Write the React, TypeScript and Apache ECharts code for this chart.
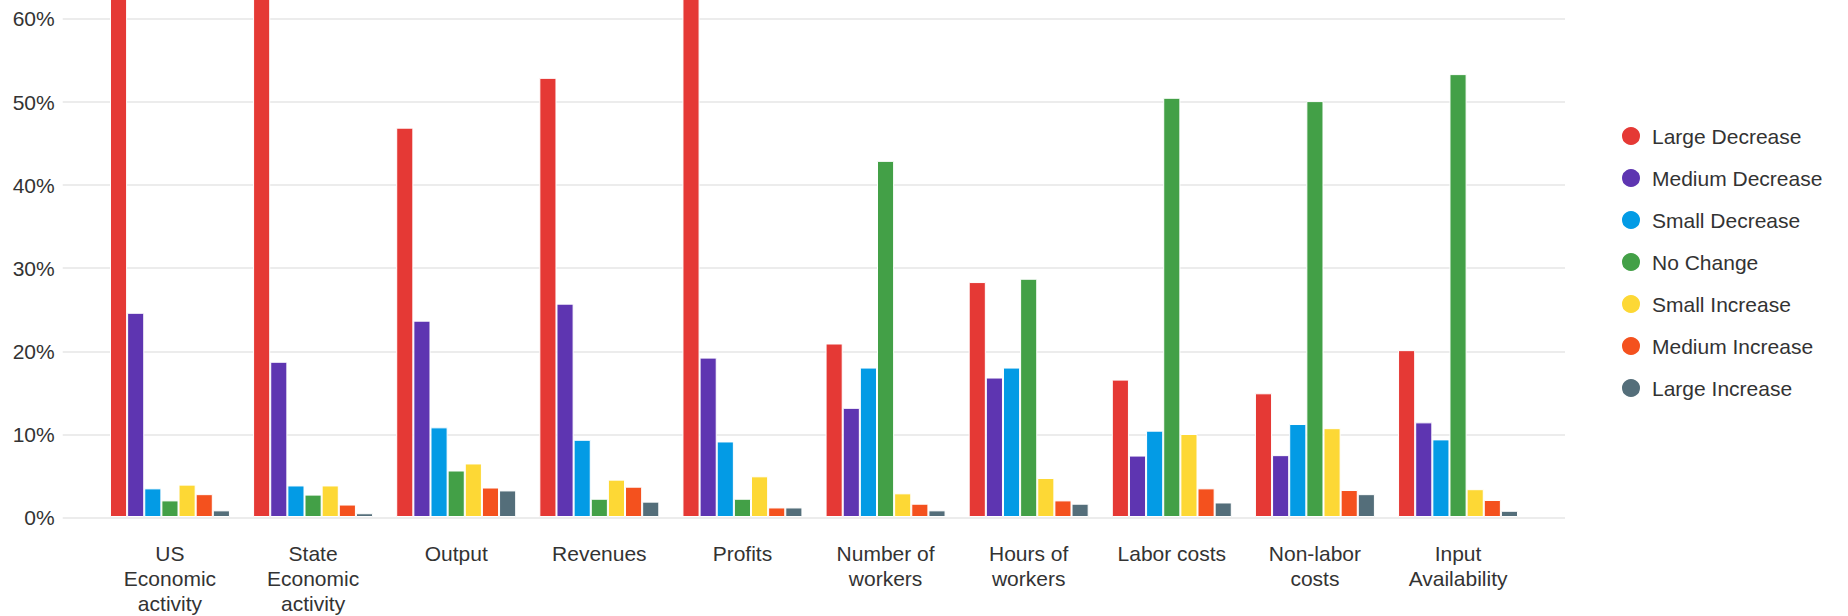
import React, { useEffect, useRef } from "react";
import * as echarts from "echarts";

const categories = [
  "US\nEconomic\nactivity",
  "State\nEconomic\nactivity",
  "Output",
  "Revenues",
  "Profits",
  "Number of\nworkers",
  "Hours of\nworkers",
  "Labor costs",
  "Non-labor\ncosts",
  "Input\nAvailability",
];

const seriesNames = [
  "Large Decrease",
  "Medium Decrease",
  "Small Decrease",
  "No Change",
  "Small Increase",
  "Medium Increase",
  "Large Increase",
];

const seriesColors = ["#e53935", "#5e35b1", "#039be5", "#43a047", "#fdd835", "#f4511e", "#546e7a"];

const largeDecrease = [66.4, 70.3, 46.9, 52.9, 63.9, 20.9, 28.3, 16.55, 14.9, 20.1];
const mediumDecrease = [24.6, 18.7, 23.65, 25.7, 19.2, 13.15, 16.8, 7.4, 7.45, 11.4];
const smallDecrease = [3.45, 3.8, 10.8, 9.3, 9.1, 18.0, 18.0, 10.4, 11.2, 9.35];
const noChange = [2.0, 2.7, 5.6, 2.2, 2.2, 42.9, 28.7, 50.5, 50.1, 53.35];
const smallIncrease = [3.9, 3.8, 6.45, 4.5, 4.9, 2.85, 4.7, 10.0, 10.7, 3.35];
const mediumIncrease = [2.75, 1.5, 3.55, 3.65, 1.15, 1.6, 2.0, 3.45, 3.25, 2.05];
const largeIncrease = [0.8, 0.45, 3.2, 1.85, 1.15, 0.8, 1.6, 1.75, 2.75, 0.75];

const seriesValues = [
  largeDecrease,
  mediumDecrease,
  smallDecrease,
  noChange,
  smallIncrease,
  mediumIncrease,
  largeIncrease,
];

const yMin = 0;
const yMax = 70;
const yInterval = 10;

const FONT = "'Liberation Sans', Arial, Helvetica, sans-serif";
const TEXT_COLOR = "#333333";
const SHIFT = 80;

export default function App() {
  const ref = useRef<HTMLDivElement>(null);

  useEffect(() => {
    document.body.style.margin = "0";
    document.body.style.overflow = "hidden";
    if (!ref.current) return;
    const chart = echarts.init(ref.current, undefined, { renderer: "svg" });
    const option: any = {
      animation: false,
      backgroundColor: "#ffffff",
      textStyle: { fontFamily: FONT },
      grid: [
        { left: 62.7, right: 283, top: SHIFT - 64.1, bottom: 98.5, containLabel: false },
        { left: 98.4, right: 318.4, top: SHIFT - 64.1, bottom: 98.5, containLabel: false },
      ],
      xAxis: [
        { type: "value", gridIndex: 0, show: false, min: 0, max: 1 },
        {
          type: "category",
          gridIndex: 1,
          data: categories,
          axisLine: { show: false },
          axisTick: { show: false },
          splitLine: { show: false },
          axisLabel: {
            interval: 0,
            margin: 24,
            fontSize: 21,
            lineHeight: 25,
            color: TEXT_COLOR,
            fontFamily: FONT,
            align: "center",
            verticalAlign: "top",
          },
        },
      ],
      yAxis: [
        {
          type: "value",
          gridIndex: 0,
          min: yMin,
          max: yMax,
          interval: yInterval,
          axisLine: { show: false },
          axisTick: { show: false },
          axisLabel: {
            formatter: "{value}%",
            margin: 8,
            fontSize: 21,
            color: TEXT_COLOR,
            fontFamily: FONT,
            showMaxLabel: false,
          },
          splitLine: { show: true, lineStyle: { color: "#e6e6e6", width: 1.5 } },
        },
        {
          type: "value",
          gridIndex: 1,
          min: yMin,
          max: yMax,
          interval: yInterval,
          show: false,
          splitLine: { show: false },
        },
      ],
      legend: {
        orient: "vertical",
        left: 1615,
        top: SHIFT + 120,
        itemWidth: 20,
        itemHeight: 20,
        itemGap: 20,
        icon: "circle",
        data: seriesNames,
        textStyle: {
          fontSize: 21,
          lineHeight: 20,
          color: TEXT_COLOR,
          fontFamily: FONT,
          padding: [0, 0, 0, 6],
        },
      },
      series: seriesNames.map((name, i) => ({
        name,
        type: "bar",
        xAxisIndex: 1,
        yAxisIndex: 1,
        data: seriesValues[i],
        barWidth: 17.14,
        barGap: "0%",
        itemStyle: { color: seriesColors[i], borderColor: "#ffffff", borderWidth: 1 },
        emphasis: { disabled: true },
      })),
    };
    chart.setOption(option);
    return () => chart.dispose();
  }, []);

  return (
    <div
      ref={ref}
      style={{ position: "fixed", left: 0, top: -SHIFT, width: 1848, height: 616 + SHIFT }}
    />
  );
}
